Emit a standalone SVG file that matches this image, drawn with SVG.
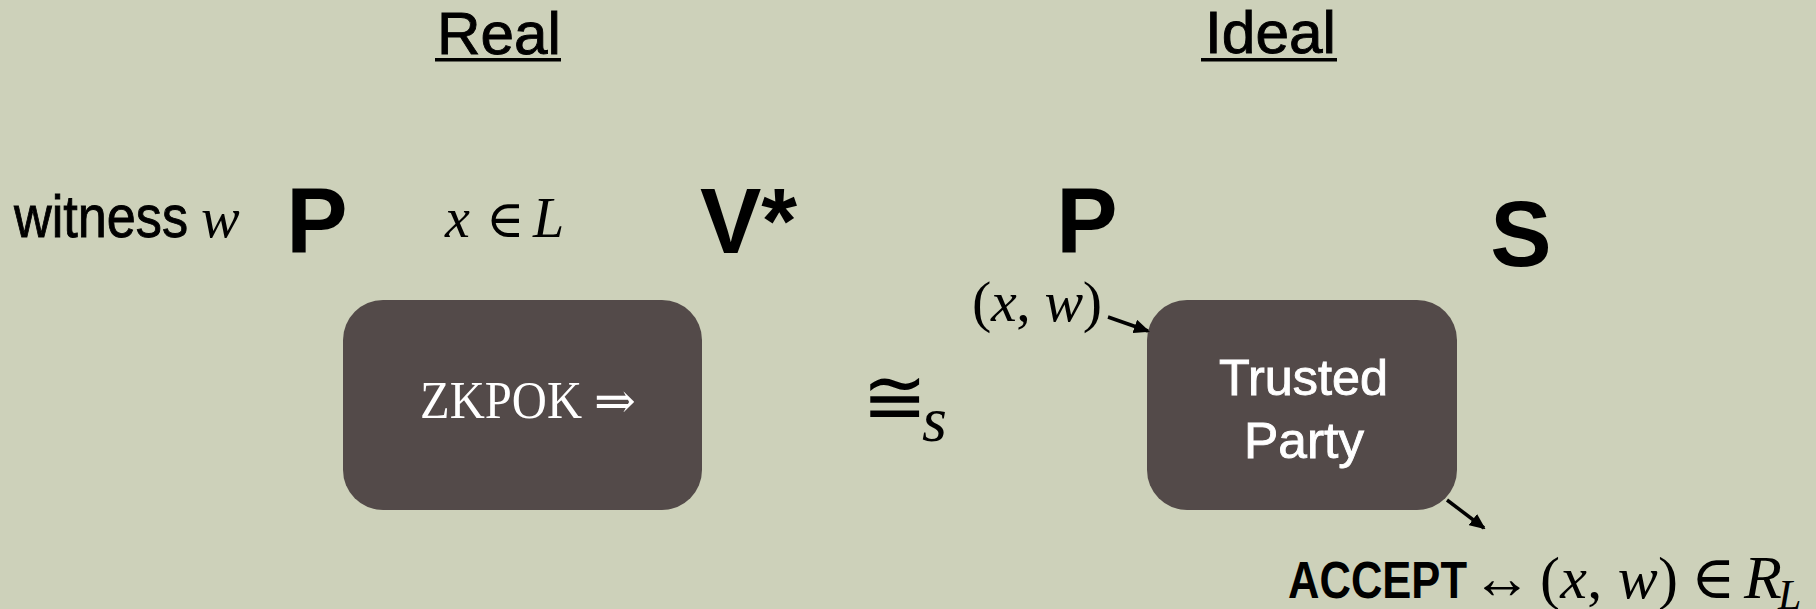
<svg xmlns="http://www.w3.org/2000/svg" width="1816" height="609" viewBox="0 0 1816 609">
<style>
.bg{fill:#cdd1ba}
.box{fill:#534a49}
.ns{font-family:"Liberation Sans Narrow","Liberation Sans",Arial,sans-serif;fill:#000;stroke:#000;stroke-width:0.9}
.bold{font-family:"Liberation Sans",Arial,sans-serif;font-weight:bold;fill:#000}
.m{font-family:"Liberation Serif","DejaVu Serif",serif;fill:#000}
.i{font-style:italic}
.w{fill:#fff;stroke:#fff}
.wf{fill:#fff}
.conn{stroke:#000;stroke-width:3.5;fill:none}
</style>
<defs>
<marker id="ah" markerWidth="16" markerHeight="14" refX="14" refY="7" orient="auto" markerUnits="userSpaceOnUse" viewBox="0 0 16 14">
<path d="M0,0 L16,7 L0,14 z" fill="#000"/>
</marker>
</defs>
<rect class="bg" x="0" y="0" width="1816" height="609"/>

<g id="title-real">
<text class="ns" x="437" y="54" font-size="60" textLength="124" lengthAdjust="spacingAndGlyphs">Real</text>
<rect x="435" y="58" width="126" height="3.5" fill="#000"/>
</g>
<g id="title-ideal">
<text class="ns" x="1205" y="53" font-size="60" textLength="131" lengthAdjust="spacingAndGlyphs">Ideal</text>
<rect x="1201" y="58" width="136" height="3.5" fill="#000"/>
</g>

<g id="witness">
<text class="ns" x="14" y="237" font-size="60" textLength="174" lengthAdjust="spacingAndGlyphs">witness</text>
<text class="m i" x="201" y="237" font-size="58">w</text>
</g>

<g id="P-real"><text class="bold" x="317" y="253" font-size="92" text-anchor="middle">P</text></g>
<g id="x-in-L">
<text class="m" y="237" font-size="56"><tspan class="i" x="445">x</tspan><tspan x="486" font-size="52">∈</tspan><tspan class="i" x="533">L</tspan></text>
</g>
<g id="V-star"><text class="bold" x="700" y="253" font-size="92">V*</text></g>

<g id="zkpok">
<rect class="box" x="343" y="300" width="359" height="210" rx="40" ry="40"/>
<text class="m wf" x="420" y="418" font-size="52" textLength="162" lengthAdjust="spacingAndGlyphs">ZKPOK</text>
<text class="m wf" x="594" y="418" font-size="50">⇒</text>
</g>

<g id="approx">
<text class="m" x="862" y="424" font-size="78">≅</text>
<text class="m i" x="922" y="441" font-size="64">s</text>
</g>

<g id="P-ideal"><text class="bold" x="1087" y="253" font-size="92" text-anchor="middle">P</text></g>
<g id="S"><text class="bold" x="1521" y="266" font-size="92" text-anchor="middle">S</text></g>

<g id="xw-input">
<text class="m" y="321" font-size="58" textLength="130" x="972" lengthAdjust="spacing"><tspan>(</tspan><tspan class="i">x</tspan><tspan>, </tspan><tspan class="i">w</tspan><tspan>)</tspan></text>
</g>

<g id="trusted-party">
<rect class="box" x="1147" y="300" width="310" height="210" rx="40" ry="40"/>
<text class="ns w" x="1219" y="395" font-size="50" textLength="169" lengthAdjust="spacingAndGlyphs">Trusted</text>
<text class="ns w" x="1244" y="458" font-size="50" textLength="120" lengthAdjust="spacingAndGlyphs">Party</text>
</g>

<g id="accept">
<text class="bold" x="1288" y="598" font-size="52" textLength="179" lengthAdjust="spacingAndGlyphs">ACCEPT</text>
<text class="m" x="1472" y="598" font-size="60">↔</text>
<text class="m" y="598" font-size="60" x="1540" textLength="138" lengthAdjust="spacing"><tspan>(</tspan><tspan class="i">x</tspan><tspan>, </tspan><tspan class="i">w</tspan><tspan>)</tspan></text>
<text class="m" x="1691" y="598" font-size="60">∈</text>
<text class="m i" x="1744" y="598" font-size="62">R</text>
<text class="m i" x="1778" y="609" font-size="42">L</text>
</g>

<g id="connectors">
<line class="conn" x1="1108" y1="317" x2="1148" y2="331" marker-end="url(#ah)"/>
<line class="conn" x1="1447" y1="500" x2="1484" y2="528" marker-end="url(#ah)"/>
</g>
</svg>
